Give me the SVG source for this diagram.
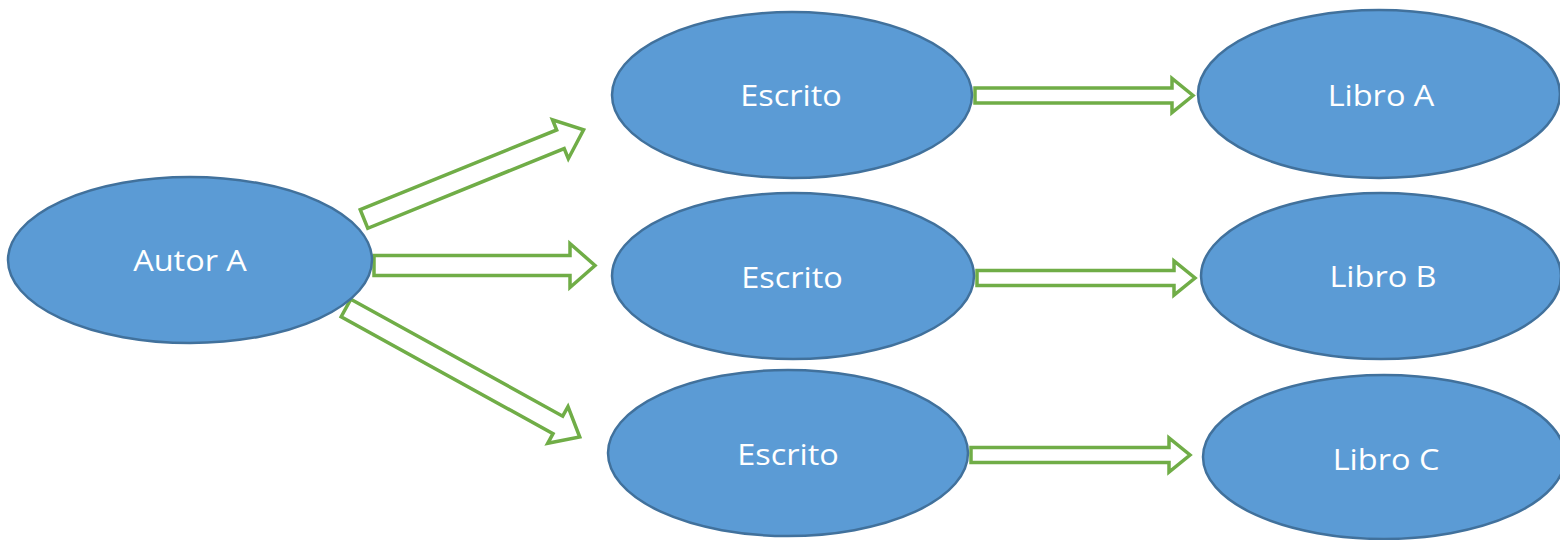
<svg xmlns="http://www.w3.org/2000/svg" width="1560" height="540" viewBox="0 0 1560 540">
<style>
.node ellipse{fill:#5B9BD5;stroke:#41719C;stroke-width:2.5}
.node text{fill:#FFFFFF;font-family:"Open Sans","Noto Sans","Liberation Sans",sans-serif;font-size:29px;text-anchor:middle}
.arrow{fill:#FFFFFF;stroke:#70AD47;stroke-width:3.5;stroke-linejoin:miter}
</style>
<rect width="1560" height="540" fill="#FFFFFF"/>
<g id="connectors">
  <path class="arrow" transform="translate(364,219) rotate(-22.1)" d="M0,-10 L212,-10 L212,-21 L237,0 L212,21 L212,10 L0,10 Z"/>
  <path class="arrow" transform="translate(374,265.5)" d="M0,-10 L196,-10 L196,-22 L221,0 L196,22 L196,10 L0,10 Z"/>
  <path class="arrow" transform="translate(346,308) rotate(28.9)" d="M0,-10 L242,-10 L242,-21 L267,0 L242,21 L242,10 L0,10 Z"/>
  <path class="arrow" transform="translate(975,95.5)" d="M0,-7.5 L197,-7.5 L197,-17 L218,0 L197,17 L197,7.5 L0,7.5 Z"/>
  <path class="arrow" transform="translate(977,278)" d="M0,-7.5 L197,-7.5 L197,-17 L218,0 L197,17 L197,7.5 L0,7.5 Z"/>
  <path class="arrow" transform="translate(971,455)" d="M0,-7.5 L198,-7.5 L198,-17 L219,0 L198,17 L198,7.5 L0,7.5 Z"/>
</g>
<g id="autorA" class="node">
  <ellipse cx="190" cy="260" rx="182" ry="83"/>
  <text transform="translate(190,271) scale(1.12,1)">Autor A</text>
</g>
<g id="escrito1" class="node">
  <ellipse cx="792" cy="95" rx="180" ry="83"/>
  <text transform="translate(791,106) scale(1.12,1)">Escrito</text>
</g>
<g id="escrito2" class="node">
  <ellipse cx="793" cy="276" rx="181" ry="83"/>
  <text transform="translate(792,288) scale(1.12,1)">Escrito</text>
</g>
<g id="escrito3" class="node">
  <ellipse cx="788" cy="453" rx="180" ry="83"/>
  <text transform="translate(788,465) scale(1.12,1)">Escrito</text>
</g>
<g id="libroA" class="node">
  <ellipse cx="1379" cy="94" rx="181" ry="84"/>
  <text transform="translate(1381,106) scale(1.12,1)">Libro A</text>
</g>
<g id="libroB" class="node">
  <ellipse cx="1381" cy="276" rx="180" ry="83"/>
  <text transform="translate(1383,287) scale(1.12,1)">Libro B</text>
</g>
<g id="libroC" class="node">
  <ellipse cx="1384" cy="457" rx="181" ry="82"/>
  <text transform="translate(1386,470) scale(1.12,1)">Libro C</text>
</g>
</svg>
